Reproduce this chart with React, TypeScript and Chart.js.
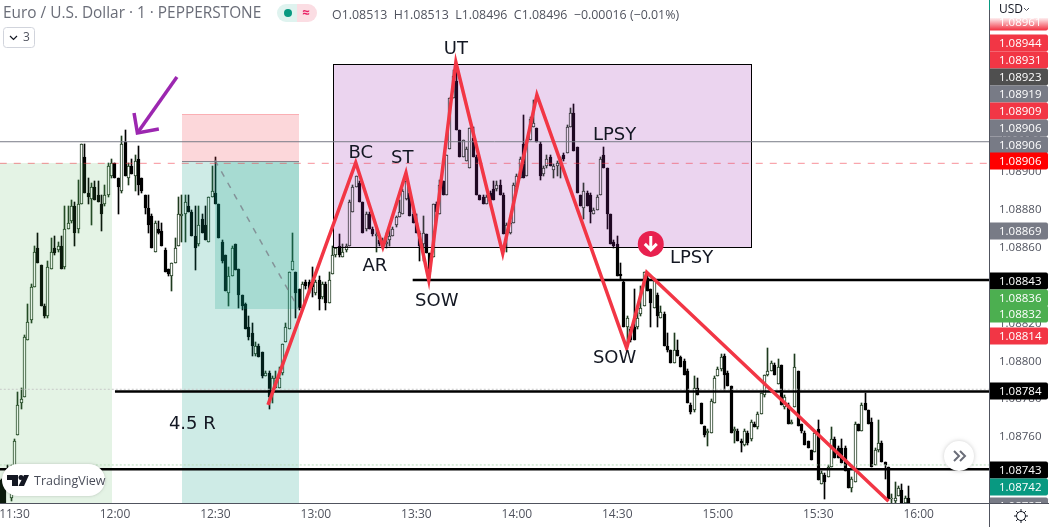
import React, { useEffect, useRef } from "react";
import { Chart, registerables } from "chart.js";

Chart.register(...registerables);

// Prices are stored as points above 1.08000 (743 = 1.08743); x is minutes after 11:30.
const firstMinute = -4;
const opens = [
  737,736,741,728,743,761,778,781,811,822, 839,860,851,829,824,849,860,859,861,850,
  870,874,882,870,883,908,889,886,892,888, 883,883,888,898,905,897,890,916,897,903,
  898,907,897,888,881,877,858,870,869,859, 849,845,852,861,877,878,882,879,866,862,
  875,872,863,887,889,883,863,856,836,845, 862,849,835,830,818,815,804,808,805,792,
  794,784,786,786,794,810,817,848,847,838, 828,842,842,842,836,843,834,841,831,846,
  856,861,855,859,861,879,892,894,884,870, 878,870,866,864,861,862,864,866,872,876,
  878,886,889,878,873,868,862,867,857,855, 883,878,895,888,912,939,948,922,908,906,
  902,918,908,888,887,883,889,891,891,893, 888,867,868,873,892,897,915,898,917,924,
  923,915,899,903,908,901,903,904,909,910, 924,931,913,888,881,889,888,878,880,888,
  909,902,878,863,862,846,842,818,817,818, 818,825,829,844,838,828,835,823,825,808,
  806,799,806,802,800,795,777,774,786,778, 766,762,762,778,792,796,803,794,787,763,
  763,758,756,762,759,767,765,772,782,793, 795,798,788,798,776,777,767,776,795,767,
  762,758,753,752,764,735,740,739,744,759, 754,754,754,743,733,736,767,763,778,774,
  768,745,753,757,747,744,727,726,729,732,725,728,
];
const highs = [
  738,737,745,745,759,784,786,814,830,841, 861,868,851,830,853,865,866,863,866,882,
  882,885,884,896,915,915,897,894,895,895, 888,893,905,907,905,897,919,922,905,907,
  909,914,897,888,888,878,874,874,873,860, 849,852,865,887,888,888,888,880,882,882,
  878,882,887,903,908,883,864,856,850,861, 862,849,835,831,824,820,810,809,805,795,
  795,792,795,797,809,820,847,868,847,838, 842,843,843,850,843,845,842,842,847,861,
  860,867,862,862,885,893,898,895,884,879, 879,871,870,865,865,868,870,871,877,885,
  891,896,890,879,878,869,877,867,857,883, 884,896,895,909,939,954,957,922,917,913,
  923,924,909,888,888,888,890,895,895,896, 889,873,874,894,899,908,930,917,929,938,
  923,916,903,909,909,904,906,908,910,925, 934,936,913,888,894,890,889,881,888,908,
  913,902,878,864,866,852,843,824,818,838, 826,840,847,846,838,844,836,829,826,815,
  806,815,811,803,801,796,778,792,791,778, 766,764,780,792,797,804,804,795,787,765,
  764,759,764,763,769,768,773,783,793,807, 800,799,801,798,782,778,769,804,795,767,
  763,758,753,763,769,742,741,745,765,760, 755,759,755,743,739,768,767,778,783,774,
  770,754,769,758,747,744,730,736,734,735,729,734,
];
const lows = [
  725,722,735,726,742,761,775,781,811,820, 839,852,829,823,823,849,856,858,849,849,
  870,873,861,868,883,889,883,872,885,884, 869,882,887,897,897,878,889,898,893,899,
  890,888,889,878,868,860,858,867,861,847, 845,837,852,861,863,863,879,866,848,861,
  868,864,863,887,883,865,852,837,829,845, 848,828,827,817,811,803,803,802,791,792,
  775,778,786,786,793,810,817,848,823,827, 827,838,836,834,835,827,833,827,831,846,
  855,855,855,858,861,879,892,884,868,869, 870,866,858,861,860,860,861,866,871,876,
  878,885,877,873,868,853,853,857,844,855, 879,878,888,888,912,939,922,908,908,906,
  902,908,888,885,883,883,884,885,890,888, 867,858,867,873,892,897,897,898,917,924,
  916,896,898,902,903,897,898,897,906,910, 924,911,889,882,875,882,873,878,880,888,
  902,870,862,860,845,843,818,810,810,811, 817,824,829,837,818,828,818,823,808,805,
  799,799,803,797,793,778,772,773,782,767, 760,755,762,778,792,795,785,787,762,757,
  758,752,755,756,758,765,764,772,781,792, 795,793,788,777,775,767,767,776,766,762,
  756,754,748,752,737,735,727,739,744,749, 749,746,742,733,731,736,763,763,774,767,
  744,745,752,747,738,727,725,725,729,724,724,724,
];
const closes = [
  725,722,736,742,758,777,780,813,821,839, 858,852,829,824,850,858,857,861,849,870,
  873,882,868,883,915,889,887,892,885,884, 878,888,903,905,897,892,915,898,903,899,
  906,893,890,881,872,860,873,868,861,847, 846,852,860,878,878,884,879,866,860,872,
  868,864,887,890,883,865,853,837,845,860, 848,835,829,817,813,808,808,802,792,794,
  781,791,791,791,809,818,847,853,836,828, 841,840,837,839,842,833,841,831,843,856,
  860,856,858,861,884,892,898,884,868,878, 870,867,867,862,864,863,866,870,876,879,
  890,895,877,873,868,861,868,857,847,883, 879,893,888,909,939,951,922,908,917,912,
  923,908,888,885,883,887,885,885,893,888, 867,872,873,893,898,907,897,916,928,926,
  916,898,902,907,903,903,905,907,907,924, 931,911,889,882,890,882,879,880,887,907,
  902,878,862,861,845,845,818,823,811,811, 823,828,847,837,831,843,824,826,808,806,
  799,806,803,797,793,778,773,786,782,767, 761,763,779,791,796,802,793,787,762,764,
  758,757,763,757,768,765,772,783,793,795, 799,793,797,777,781,767,768,797,766,763,
  756,754,748,762,737,741,736,744,759,749, 749,746,742,733,738,767,763,777,774,767,
  744,753,757,747,745,727,728,728,733,725,728,725,
];

const wyckoffMinutes = [75.7, 101.9, 110, 116.9, 123.7, 131.8, 145.8, 156, 182.8, 188.8, 261];
const wyckoffPrices = [777, 905, 860.4, 899.5, 843, 958, 857, 940.7, 807, 847, 726];
const supportLevels = [843, 784, 743];
const supportStarts = [118.9, 30, -4.4];
const axisEnd = 291;
const hoverLevel = 916;
const entryLevel = 904.6;
const faintLevels = [785.2, 745.2];
const faintColors = ["#c8c8c8", "#b9dcbc"];
const arrowShaftM = [48.5, 36.7];
const arrowShaftP = [950.2, 920.6];
const arrowHeadM = [35.7, 36.7, 43.1];
const arrowHeadP = [931.2, 920.6, 922.7];
const plannedM = [59.85, 84.9];
const plannedP = [906.3, 827.6];

const zones = [
  { m0: -4.4, m1: 29.1, p0: 904.8, p1: 725, fill: "rgba(76,175,80,0.15)", border: "" },
  { m0: 50, m1: 84.9, p0: 905.3, p1: 725, fill: "rgba(8,153,129,0.2)", border: "" },
  { m0: 59.85, m1: 84.9, p0: 905.3, p1: 827.6, fill: "rgba(8,153,129,0.2)", border: "" },
  { m0: 50, m1: 84.9, p0: 930.6, p1: 905.3, fill: "rgba(242,54,69,0.2)", border: "" },
  { m0: 95.1, m1: 219.9, p0: 957, p1: 860.4, fill: "rgba(156,39,176,0.2)", border: "#000000" },
];

const notes = [
  { t: "UT", m: 131.8, p: 964.9 },
  { t: "BC", m: 103.4, p: 909.9 },
  { t: "ST", m: 115.8, p: 907.4 },
  { t: "AR", m: 107.6, p: 850.2 },
  { t: "SOW", m: 126.1, p: 831.7 },
  { t: "LPSY", m: 179.2, p: 919.4 },
  { t: "LPSY", m: 202.2, p: 854.5 },
  { t: "SOW", m: 179.2, p: 801.6 },
  { t: "4.5 R", m: 53.1, p: 766.7 },
];
const signalMinute = 190;
const signalPrice = 862;

const tagLabels = ["1.08961", "1.08944", "1.08931", "1.08923", "1.08919", "1.08909", "1.08906", "1.08906", "1.08906", "1.08869", "1.08843", "1.08836", "1.08832", "1.08814", "1.08784", "1.08743", "1.08742", "1.08727"];
const tagColors = ["#f23645", "#f23645", "#f23645", "#4f4f4f", "#787b86", "#f23645", "#787b86", "#787b86", "#ff0000", "#787b86", "#000000", "#4caf50", "#4caf50", "#f23645", "#000000", "#000000", "#089981", "#787b86"];
const tagCenters = [22, 43, 60, 77, 94, 111, 128, 145, 161, 231, 281, 298, 314, 336, 391, 470, 487, 506];

const FONT = '"Open Sans", sans-serif';

const rr = (ctx: CanvasRenderingContext2D, x: number, y: number, w: number, h: number, r: any) => {
  ctx.beginPath();
  ctx.roundRect(x, y, w, h, r);
};

const candleSnap = {
  id: "candleSnap",
  beforeDatasetDraw(chart: any, args: any) {
    if (args.index > 1) return;
    args.meta.data.forEach((el: any) => {
      el.x = Math.floor(el.x) + 0.5;
      el.y = Math.round(el.y);
      el.base = Math.round(el.base);
    });
  },
};

const overlay = {
  id: "overlay",
  afterDatasetDraw(chart: any, args: any) {
    if (args.index !== 1) return;
    const { ctx, scales } = chart;
    const { x, y } = scales;
    ctx.save();
    zones.forEach((z) => {
      const l = Math.round(x.getPixelForValue(z.m0));
      const r = Math.round(x.getPixelForValue(z.m1));
      const t = Math.round(y.getPixelForValue(z.p0));
      const b = Math.round(y.getPixelForValue(z.p1));
      ctx.fillStyle = z.fill;
      ctx.fillRect(l, t, r - l, b - t);
      if (z.border) {
        ctx.strokeStyle = z.border;
        ctx.lineWidth = 1;
        ctx.strokeRect(l + 0.5, t + 0.5, r - l, b - t);
      }
    });
    // top edge of the stop box and of the target box
    const bl = Math.round(x.getPixelForValue(zones[1].m0));
    const br = Math.round(x.getPixelForValue(zones[1].m1));
    ctx.fillStyle = "rgba(120,123,134,0.9)";
    ctx.fillRect(bl, Math.round(y.getPixelForValue(zones[1].p0)) - 1, br - bl, 1);
    ctx.fillStyle = "rgba(242,54,69,0.25)";
    ctx.fillRect(bl, Math.round(y.getPixelForValue(zones[3].p0)), br - bl, 1);
    ctx.restore();
  },
  afterDatasetsDraw(chart: any) {
    const { ctx, scales } = chart;
    const { x, y } = scales;
    ctx.save();
    ctx.fillStyle = "#131722";
    ctx.font = `18px "DejaVu Sans"`;
    ctx.textAlign = "center";
    ctx.textBaseline = "middle";
    notes.forEach((n) => ctx.fillText(n.t, x.getPixelForValue(n.m), y.getPixelForValue(n.p)));

    const sx = x.getPixelForValue(signalMinute);
    const sy = y.getPixelForValue(signalPrice);
    ctx.fillStyle = "#e8214f";
    ctx.beginPath();
    ctx.arc(sx, sy, 13, 0, Math.PI * 2);
    ctx.fill();
    ctx.strokeStyle = "#ffffff";
    ctx.lineWidth = 3;
    ctx.beginPath();
    ctx.moveTo(sx, sy - 8);
    ctx.lineTo(sx, sy + 5);
    ctx.moveTo(sx - 6, sy);
    ctx.lineTo(sx, sy + 6);
    ctx.lineTo(sx + 6, sy);
    ctx.stroke();
    ctx.restore();
  },
  afterDraw(chart: any) {
    const { ctx } = chart;
    ctx.save();
    ctx.textBaseline = "middle";

    // axis frame
    ctx.fillStyle = "#50535e";
    ctx.fillRect(0, 503, 1049, 1);
    ctx.fillRect(989, 0, 1, 527);
    ctx.fillStyle = "#089981";
    ctx.fillRect(989, 0, 1, 10);

    // price tags
    ctx.save();
    ctx.beginPath();
    ctx.rect(990, 14, 59, 489);
    ctx.clip();
    tagLabels.forEach((label, i) => {
      const c = tagCenters[i];
      ctx.fillStyle = tagColors[i];
      rr(ctx, 990, c - 8.5, 58, 17, [0, 2, 2, 0]);
      ctx.fill();
      ctx.fillStyle = "#ffffff";
      ctx.font = `11.5px ${FONT}`;
      ctx.textAlign = "left";
      ctx.fillText(label, 999, c + 0.5);
    });
    ctx.restore();
    const fade = ctx.createLinearGradient(0, 17, 0, 30);
    fade.addColorStop(0, "rgba(255,255,255,1)");
    fade.addColorStop(1, "rgba(255,255,255,0)");
    ctx.fillStyle = fade;
    ctx.fillRect(990, 17, 59, 14);
    ctx.fillStyle = "#ffffff";
    ctx.fillRect(990, 0, 59, 18);

    ctx.fillStyle = "#131722";
    ctx.font = `12px ${FONT}`;
    ctx.textAlign = "left";
    ctx.fillText("USD", 999, 10);
    ctx.strokeStyle = "#50535e";
    ctx.lineWidth = 1;
    ctx.beginPath();
    ctx.moveTo(1024, 8);
    ctx.lineTo(1026.5, 10.5);
    ctx.lineTo(1029, 8);
    ctx.stroke();

    // header
    ctx.fillStyle = "#6a6d78";
    ctx.font = `15.4px ${FONT}`;
    ctx.fillText("Euro / U.S. Dollar \u00b7 1 \u00b7 PEPPERSTONE", 3, 14);
    ctx.fillStyle = "#dff3ef";
    rr(ctx, 277, 4, 20, 18, [9, 0, 0, 9]);
    ctx.fill();
    ctx.fillStyle = "#fbdde3";
    rr(ctx, 297, 4, 20, 18, [0, 9, 9, 0]);
    ctx.fill();
    ctx.fillStyle = "#089981";
    ctx.beginPath();
    ctx.arc(288, 13, 4, 0, Math.PI * 2);
    ctx.fill();
    ctx.fillStyle = "#e91e63";
    ctx.font = `bold 13px ${FONT}`;
    ctx.textAlign = "center";
    ctx.fillText("\u2248", 306, 13);
    ctx.textAlign = "left";
    ctx.fillStyle = "#50535e";
    ctx.font = `12.4px ${FONT}`;
    ctx.fillText("O1.08513  H1.08513  L1.08496  C1.08496  \u22120.00016 (\u22120.01%)", 332, 15);

    // indicators button
    ctx.fillStyle = "#ffffff";
    ctx.strokeStyle = "#d1d4dc";
    ctx.lineWidth = 1;
    rr(ctx, 3.5, 27.5, 31, 20, 3);
    ctx.fill();
    ctx.stroke();
    ctx.strokeStyle = "#131722";
    ctx.lineWidth = 1.2;
    ctx.beginPath();
    ctx.moveTo(10, 36);
    ctx.lineTo(13.5, 39.5);
    ctx.lineTo(17, 36);
    ctx.stroke();
    ctx.fillStyle = "#50535e";
    ctx.font = `12px ${FONT}`;
    ctx.fillText("3", 23, 38);

    // logo badge
    ctx.save();
    ctx.shadowColor = "rgba(0,0,0,0.2)";
    ctx.shadowBlur = 3;
    ctx.fillStyle = "#ffffff";
    rr(ctx, 2, 464, 103, 32, 16);
    ctx.fill();
    ctx.restore();
    ctx.fillStyle = "#131722";
    ctx.beginPath();
    ctx.moveTo(7, 475);
    ctx.lineTo(18, 475);
    ctx.lineTo(18, 486);
    ctx.lineTo(12, 486);
    ctx.lineTo(12, 480);
    ctx.lineTo(7, 480);
    ctx.closePath();
    ctx.moveTo(24, 475);
    ctx.lineTo(29, 475);
    ctx.lineTo(24, 486);
    ctx.lineTo(18.5, 486);
    ctx.closePath();
    ctx.fill();
    ctx.beginPath();
    ctx.arc(21, 477.5, 2.5, 0, Math.PI * 2);
    ctx.fill();
    ctx.fillStyle = "#4a4e5a";
    ctx.font = `12.5px ${FONT}`;
    ctx.fillText("TradingView", 34, 481);

    // scroll button
    ctx.save();
    ctx.shadowColor = "rgba(0,0,0,0.2)";
    ctx.shadowBlur = 4;
    ctx.fillStyle = "#ffffff";
    ctx.beginPath();
    ctx.arc(959, 456, 15, 0, Math.PI * 2);
    ctx.fill();
    ctx.restore();
    ctx.strokeStyle = "#6a6d78";
    ctx.lineWidth = 2;
    ctx.beginPath();
    ctx.moveTo(954, 451);
    ctx.lineTo(959, 456);
    ctx.lineTo(954, 461);
    ctx.moveTo(960, 451);
    ctx.lineTo(965, 456);
    ctx.lineTo(960, 461);
    ctx.stroke();

    // settings
    ctx.strokeStyle = "#131722";
    ctx.lineWidth = 1;
    ctx.beginPath();
    ctx.arc(1021, 516, 4.5, 0, Math.PI * 2);
    for (let i = 0; i < 8; i++) {
      const a = (i * Math.PI) / 4;
      ctx.moveTo(1021 + Math.cos(a) * 4.5, 516 + Math.sin(a) * 4.5);
      ctx.lineTo(1021 + Math.cos(a) * 7, 516 + Math.sin(a) * 7);
    }
    ctx.stroke();
    ctx.restore();
  },
};

const minutesToLabel = (v: number) => {
  const total = 11 * 60 + 30 + v;
  const h = Math.floor(total / 60);
  const m = total % 60;
  return `${h}:${String(m).padStart(2, "0")}`;
};

const line = (data: { x: number; y: number }[], color: string, width: number, extra: object = {}) => ({
  type: "line",
  data,
  borderColor: color,
  borderWidth: width,
  pointRadius: 0,
  tension: 0,
  order: 10,
  ...extra,
});

export default function App() {
  const ref = useRef<HTMLCanvasElement>(null);
  useEffect(() => {
    document.body.style.margin = "0";
    const minutes = opens.map((_, i) => firstMinute + i);
    const up = opens.map((o, i) => closes[i] >= o);
    const chart = new Chart(ref.current as HTMLCanvasElement, {
      type: "bar",
      data: {
        datasets: [
          {
            data: minutes.map((m, i) => ({ x: m, y: [lows[i], highs[i]] })),
            backgroundColor: up.map((u) => (u ? "#1e3a1e" : "#000000")),
            barThickness: 1,
            grouped: false,
            order: 50,
          },
          {
            data: minutes.map((m, i) => ({ x: m, y: [opens[i], closes[i]] })),
            backgroundColor: up.map((u) => (u ? "#ffffff" : "#000000")),
            borderColor: up.map((u) => (u ? "#1e3a1e" : "#000000")),
            borderWidth: 1,
            borderSkipped: false,
            barThickness: 3,
            grouped: false,
            order: 40,
          },
          line([{ x: -4.4, y: entryLevel }, { x: axisEnd, y: entryLevel }], "rgba(242,54,69,0.55)", 1, { borderDash: [7, 7] }),
          line([{ x: -4.4, y: hoverLevel }, { x: axisEnd, y: hoverLevel }], "#787b86", 1),
          ...faintLevels.map((lv, i) =>
            line([{ x: -4.4, y: lv }, { x: axisEnd, y: lv }], faintColors[i], 1, { borderDash: [2, 2] })
          ),
          line(plannedM.map((m, i) => ({ x: m, y: plannedP[i] })), "rgba(120,123,134,0.75)", 1.5, { borderDash: [6, 7] }),
          ...supportLevels.map((lv, i) =>
            line([{ x: supportStarts[i], y: lv }, { x: axisEnd, y: lv }], "#000000", 2.5)
          ),
          line(wyckoffMinutes.map((m, i) => ({ x: m, y: wyckoffPrices[i] })), "#f23645", 3.5, { order: 5 }),
          line(arrowShaftM.map((m, i) => ({ x: m, y: arrowShaftP[i] })), "#9c27b0", 3.5, { order: 5 }),
          line(arrowHeadM.map((m, i) => ({ x: m, y: arrowHeadP[i] })), "#9c27b0", 3.5, { order: 5 }),
        ] as any,
      },
      options: {
        animation: false,
        responsive: false,
        layout: { padding: 0 },
        plugins: { legend: { display: false }, tooltip: { enabled: false } },
        scales: {
          x: {
            type: "linear",
            min: -4.33,
            max: 291,
            offset: false,
            grid: { display: false, offset: false, drawTicks: false },
            border: { display: false },
            ticks: {
              stepSize: 30,
              includeBounds: false,
              autoSkip: false,
              maxRotation: 0,
              padding: 4,
              color: "#50535e",
              font: { family: "Open Sans", size: 12 },
              callback: (v: any) => minutesToLabel(Number(v)),
            },
            afterFit: (s: any) => {
              s.height = 24;
              s.paddingLeft = 0;
              s.paddingRight = 0;
            },
          },
          y: {
            type: "linear",
            position: "right",
            min: 725.1,
            max: 990.9,
            grid: { display: false, drawTicks: false },
            border: { display: false },
            ticks: {
              stepSize: 20,
              includeBounds: false,
              padding: 10,
              color: "#50535e",
              font: { family: "Open Sans", size: 11.5 },
              callback: (v: any) => (1.08 + Number(v) / 100000).toFixed(5),
            },
            afterFit: (s: any) => {
              s.width = 60;
              s.paddingTop = 0;
              s.paddingBottom = 0;
            },
          },
        },
      } as any,
      plugins: [candleSnap, overlay],
    });
    return () => chart.destroy();
  }, []);
  return <canvas ref={ref} width={1049} height={527} style={{ display: "block" }} />;
}
